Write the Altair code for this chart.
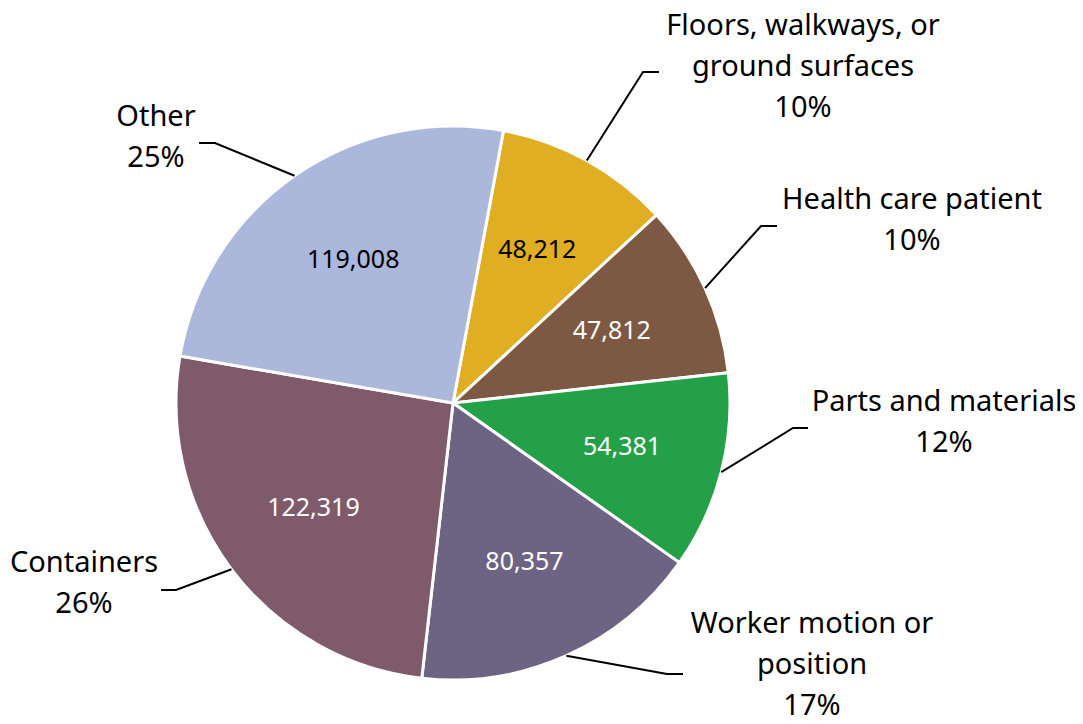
import math
import altair as alt
import pandas as pd

# ---- data ----
categories = [
    "Floors, walkways, or ground surfaces",
    "Health care patient",
    "Parts and materials",
    "Worker motion or position",
    "Containers",
    "Other",
]
label_lines = [
    "Floors, walkways, or\nground surfaces",
    "Health care patient",
    "Parts and materials",
    "Worker motion or\nposition",
    "Containers",
    "Other",
]
values = [48212, 47812, 54381, 80357, 122319, 119008]

# ---- style ----
colors = ["#DFAE22", "#7D5842", "#24A049", "#6D6483", "#7F5A6B", "#ABB7DB"]
value_text_colors = ["#000000", "#FFFFFF", "#FFFFFF", "#FFFFFF", "#FFFFFF", "#000000"]
FONT = "Noto Sans"

# ---- layout (chart pixel space) ----
W, H = 1067, 708
CX, CY = 445, 395
R = 277
START_DEG = 10.5
# elbow point, end of leader, label anchor (centre of first line) for each category
label_layout = {
    "Floors, walkways, or ground surfaces": ((635, 64), (651, 64), (795, 18)),
    "Health care patient": ((753, 218), (769, 218), (904, 192)),
    "Parts and materials": ((785, 420), (800, 420), (936, 394)),
    "Worker motion or position": ((659, 666), (675, 666), (804, 616)),
    "Containers": ((168, 582), (153, 582), (76, 555)),
    "Other": ((207, 135), (191, 135), (148, 109)),
}

total = sum(values)
pie_df = pd.DataFrame({
    "category": categories,
    "value": values,
    "idx": list(range(len(values))),
    "tcolor": value_text_colors,
})

# leader lines and outer labels derived from slice mid-angles
line_rows, lab_rows = [], []
cum = 0
for i, (cat, v) in enumerate(zip(categories, values)):
    mid = math.radians(START_DEG) + 2 * math.pi * (cum + v / 2) / total
    cum += v
    sx, sy = CX + R * math.sin(mid), CY - R * math.cos(mid)
    elbow, end, lab = label_layout[cat]
    for k, (px, py) in enumerate([(sx, sy), elbow, end]):
        line_rows.append({"category": cat, "pt": k, "x": px, "y": py})
    pct = round(100 * v / total)
    lab_rows.append({"category": cat, "x": lab[0], "y": lab[1],
                     "label": f"{label_lines[i]}\n{pct}%"})
line_df = pd.DataFrame(line_rows)
lab_df = pd.DataFrame(lab_rows)

xs = alt.Scale(domain=[0, W], nice=False, zero=False)
ys = alt.Scale(domain=[0, H], nice=False, zero=False, reverse=True)
theta_scale = alt.Scale(range=[math.radians(START_DEG), math.radians(START_DEG) + 2 * math.pi])

base = alt.Chart(pie_df)
arcs = base.mark_arc(radius=R, stroke="white", strokeWidth=3).encode(
    theta=alt.Theta("value:Q", stack=True, scale=theta_scale),
    order=alt.Order("idx:Q"),
    color=alt.Color("category:N", scale=alt.Scale(domain=categories, range=colors), legend=None),
    x=alt.value(CX),
    y=alt.value(CY),
)
inner = base.mark_text(radius=R * 0.63, fontSize=25, font=FONT).encode(
    theta=alt.Theta("value:Q", stack=True),
    order=alt.Order("idx:Q"),
    text=alt.Text("value:Q", format=","),
    fill=alt.Fill("tcolor:N", scale=None),
    x=alt.value(CX),
    y=alt.value(CY),
)
leaders = alt.Chart(line_df).mark_line(color="black", strokeWidth=2).encode(
    x=alt.X("x:Q", scale=xs, axis=None),
    y=alt.Y("y:Q", scale=ys, axis=None),
    detail="category:N",
    order="pt:Q",
)
outer = alt.Chart(lab_df).mark_text(
    font=FONT, fontSize=29, lineHeight=41, lineBreak="\n",
    align="center", baseline="middle", color="black",
).encode(
    x=alt.X("x:Q", scale=xs, axis=None),
    y=alt.Y("y:Q", scale=ys, axis=None),
    text="label:N",
)

chart = alt.layer(arcs, inner, leaders, outer).properties(
    width=W, height=H, padding=0, autosize="none"
).configure_view(stroke=None)

chart.save("out.html", embed_options={"renderer": "svg", "actions": False})
